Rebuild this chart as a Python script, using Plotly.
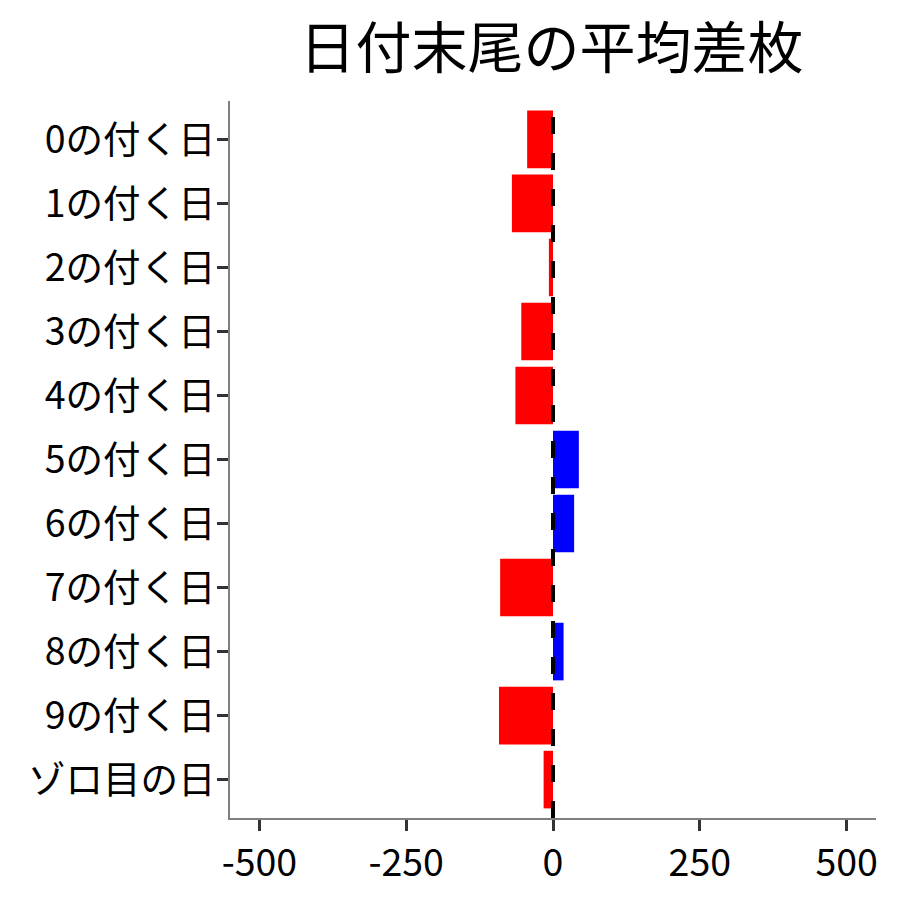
import plotly.graph_objects as go

# 日付末尾ごとの平均差枚
categories = ["0の付く日", "1の付く日", "2の付く日", "3の付く日", "4の付く日",
              "5の付く日", "6の付く日", "7の付く日", "8の付く日", "9の付く日",
              "ゾロ目の日"]
values = [-44, -70, -7, -54, -64, 44, 36, -90, 18, -92, -16]
x_ticks = [-500, -250, 0, 250, 500]

colors = ["blue" if v > 0 else "red" for v in values]

fig = go.Figure(go.Bar(
    x=values, y=categories, orientation="h",
    marker=dict(color=colors, line=dict(width=0)),
    width=0.9,
))

# vertical dashed reference line at zero
fig.add_shape(type="line", x0=0, x1=0, y0=0, y1=1, yref="paper",
              line=dict(color="black", width=4, dash="17px,19px"), layer="above")

font = "Noto Sans CJK JP"
fig.update_layout(
    width=900, height=900,
    margin=dict(l=222, r=32, t=93, b=90),
    plot_bgcolor="white", paper_bgcolor="white",
    showlegend=False,
    font=dict(family=font, color="black"),
    title=dict(text="日付末尾の平均差枚", x=(551.5 - 8) / 900, xanchor="center",
               y=0.955, yanchor="middle", font=dict(size=56, family=font, color="black")),
)
fig.update_xaxes(
    range=[-550, 550], tickvals=x_ticks, ticktext=[str(t) for t in x_ticks],
    showgrid=False, zeroline=False,
    showline=True, linecolor="#7f7f7f", linewidth=2,
    ticks="outside", ticklen=11, tickwidth=3, tickcolor="#333333",
    tickfont=dict(size=37.5, family=font, color="black"),
)
fig.update_yaxes(
    categoryorder="array", categoryarray=categories[::-1],
    range=[-0.6, len(categories) - 0.4],
    showgrid=False, zeroline=False,
    showline=True, linecolor="#7f7f7f", linewidth=2,
    ticks="outside", ticklen=11, tickwidth=3, tickcolor="#333333",
    ticklabelstandoff=-6,
    tickfont=dict(size=37.5, family=font, color="black"),
)

fig.write_html("out.html")
